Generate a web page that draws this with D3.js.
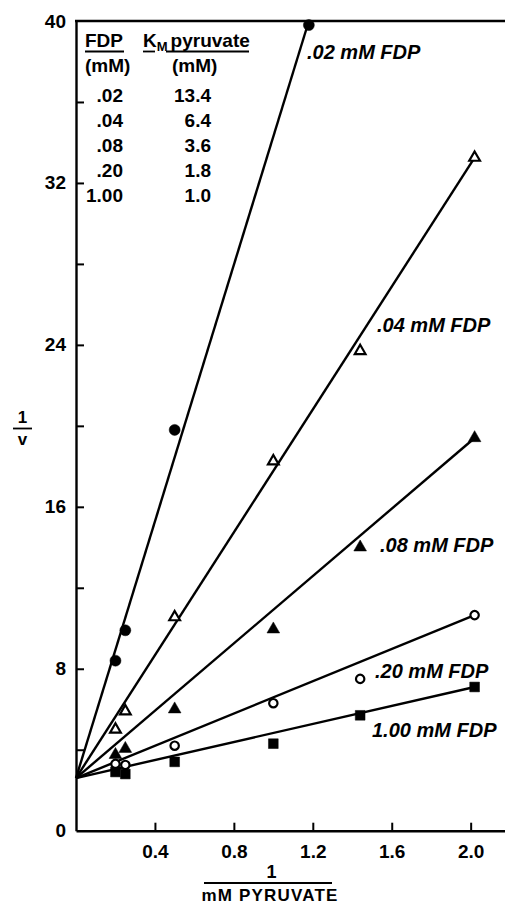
<!DOCTYPE html>
<html>
<head>
<meta charset="utf-8">
<script src="https://cdn.jsdelivr.net/npm/d3@7"></script>
<style>
  html, body { margin: 0; padding: 0; background: #fff; }
  svg { display: block; }
  text { font-family: "Liberation Sans", Arial, sans-serif; fill: #000; }
</style>
</head>
<body>
<svg id="chart" width="505" height="906"></svg>
<script>
// ---------- data ----------
const seriesNames = [".02 mM FDP", ".04 mM FDP", ".08 mM FDP", ".20 mM FDP", "1.00 mM FDP"];
const seriesSymbols = ["circle", "triangle", "triangle", "circle", "square"];
const seriesFilled = [true, false, true, false, true];

const x02 = [0.2, 0.25, 0.5, 1.18];
const y02 = [8.4, 9.9, 19.8, 39.8];
const x04 = [0.2, 0.25, 0.5, 1.0, 1.44, 2.02];
const y04 = [5.0, 5.9, 10.55, 18.25, 23.7, 33.25];
const x08 = [0.2, 0.25, 0.5, 1.0, 1.44, 2.02];
const y08 = [3.75, 4.05, 6.0, 9.95, 14.0, 19.4];
const x20 = [0.2, 0.25, 0.5, 1.0, 1.44, 2.02];
const y20 = [3.3, 3.25, 4.2, 6.3, 7.5, 10.65];
const x100 = [0.2, 0.25, 0.5, 1.0, 1.44, 2.02];
const y100 = [2.9, 2.8, 3.4, 4.3, 5.7, 7.1];

// fitted lines: common intercept and end points
const lineIntercept = 2.6;
const lineEndX = [1.18, 2.02, 2.02, 2.02, 2.02];
const lineEndY = [40, 33.25, 19.4, 10.65, 7.1];

const xTickValues = [0.4, 0.8, 1.2, 1.6, 2.0];
const xTickLabels = ["0.4", "0.8", "1.2", "1.6", "2.0"];
const yTickValues = [4, 8, 12, 16, 20, 24, 28, 32, 36];
const yLabelValues = [0, 8, 16, 24, 32, 40];

const fdpLabels = [".02", ".04", ".08", ".20", "1.00"];
const kmLabels = ["13.4", "6.4", "3.6", "1.8", "1.0"];

// ---------- layout ----------
const svg = d3.select("#chart");
const x = d3.scaleLinear().domain([0, 2.174]).range([76, 505]);
const y = d3.scaleLinear().domain([0, 40]).range([830.7, 21]);

const seriesX = [x02, x04, x08, x20, x100];
const seriesY = [y02, y04, y08, y20, y100];

// fitted lines
const lineG = svg.append("g");
lineEndX.forEach((ex, i) => {
  lineG.append("line")
    .attr("x1", x(0)).attr("y1", y(lineIntercept))
    .attr("x2", x(ex)).attr("y2", y(lineEndY[i]))
    .attr("stroke", "#000").attr("stroke-width", 2.4);
});

// axes
const xAxis = d3.axisBottom(x).tickValues(xTickValues)
  .tickFormat((d, i) => xTickLabels[i]).tickSizeInner(-8).tickSizeOuter(0).tickPadding(14);
const gx = svg.append("g").attr("transform", `translate(0,${y(0)})`).call(xAxis);
gx.select(".domain").attr("stroke-width", 2.4);
gx.selectAll(".tick line").attr("stroke-width", 2);
gx.selectAll(".tick text").attr("font-size", 19).attr("font-weight", "bold")
  .attr("font-family", "Liberation Sans, Arial, sans-serif");

const yAxis = d3.axisLeft(y).tickValues(yTickValues)
  .tickFormat(() => "").tickSizeInner(-8).tickSizeOuter(0);
const gy = svg.append("g").attr("transform", `translate(${x(0)},0)`).call(yAxis);
gy.select(".domain").attr("stroke-width", 2.4);
gy.selectAll(".tick line").attr("stroke-width", 2);

svg.append("g").selectAll("text").data(yLabelValues).join("text")
  .attr("x", 66).attr("y", d => y(d))
  .attr("text-anchor", "end").attr("dominant-baseline", "central")
  .attr("font-size", 19).attr("font-weight", "bold")
  .text(d => d);

// top frame line
svg.append("line").attr("x1", x(0) - 1).attr("x2", 505)
  .attr("y1", y(40)).attr("y2", y(40))
  .attr("stroke", "#000").attr("stroke-width", 2.4);

// markers
const symType = { circle: d3.symbolCircle, triangle: d3.symbolTriangle, square: d3.symbolSquare };
const symSize = { circle: 95, triangle: 70, square: 95 };
const symSizeOpen = { circle: 55, triangle: 50, square: 70 };
const markG = svg.append("g");
seriesX.forEach((xs, i) => {
  const t = seriesSymbols[i];
  const filled = seriesFilled[i];
  const gen = d3.symbol().type(symType[t]).size(filled ? symSize[t] : symSizeOpen[t]);
  markG.selectAll(null).data(xs.map((v, k) => [v, seriesY[i][k]])).join("path")
    .attr("d", gen)
    .attr("transform", d => `translate(${x(d[0])},${y(d[1])})`)
    .attr("fill", filled ? "#000" : "#fff")
    .attr("stroke", "#000")
    .attr("stroke-width", filled ? 0.5 : 2.2);
});

// series labels
const labelPos = [[307, 59], [377, 332], [380, 552], [375, 678], [372, 737]];
svg.append("g").selectAll("text").data(seriesNames).join("text")
  .attr("x", (d, i) => labelPos[i][0]).attr("y", (d, i) => labelPos[i][1])
  .attr("font-size", 20).attr("font-style", "italic").attr("font-weight", "bold")
  .text(d => d);

// table
const tbl = svg.append("g").attr("font-size", 19).attr("font-weight", "bold");
tbl.append("text").attr("x", 85).attr("y", 47).text("FDP");
tbl.append("line").attr("x1", 85).attr("x2", 124).attr("y1", 51.5).attr("y2", 51.5)
  .attr("stroke", "#000").attr("stroke-width", 1.8);
tbl.append("text").attr("x", 85).attr("y", 72).text("(mM)");
const kmHead = tbl.append("text").attr("x", 143).attr("y", 47);
kmHead.append("tspan").text("K");
kmHead.append("tspan").attr("font-size", 13).attr("dy", 4).text("M");
kmHead.append("tspan").attr("dy", -4).attr("dx", 3).text("pyruvate");
tbl.append("line").attr("x1", 143).attr("x2", 155).attr("y1", 51.5).attr("y2", 51.5)
  .attr("stroke", "#000").attr("stroke-width", 1.8);
tbl.append("line").attr("x1", 166).attr("x2", 249).attr("y1", 51.5).attr("y2", 51.5)
  .attr("stroke", "#000").attr("stroke-width", 1.8);
tbl.append("text").attr("x", 172).attr("y", 72).text("(mM)");
tbl.selectAll(".fdp").data(fdpLabels).join("text").attr("class", "fdp")
  .attr("x", 123).attr("y", (d, i) => 102 + i * 25).attr("text-anchor", "end").text(d => d);
tbl.selectAll(".km").data(kmLabels).join("text").attr("class", "km")
  .attr("x", 211).attr("y", (d, i) => 102 + i * 25).attr("text-anchor", "end").text(d => d);

// y-axis title: 1 / v
const yt = svg.append("g").attr("font-size", 17).attr("font-weight", "bold");
yt.append("text").attr("x", 22.5).attr("y", 423).attr("text-anchor", "middle").text("1");
yt.append("line").attr("x1", 13).attr("x2", 32).attr("y1", 428.5).attr("y2", 428.5)
  .attr("stroke", "#000").attr("stroke-width", 1.8);
yt.append("text").attr("x", 22.5).attr("y", 445).attr("text-anchor", "middle").text("v");

// x-axis title: 1 / mM PYRUVATE
const xt = svg.append("g").attr("font-size", 18).attr("font-weight", "bold");
xt.append("text").attr("x", 271.5).attr("y", 878).attr("text-anchor", "middle").text("1");
xt.append("line").attr("x1", 204).attr("x2", 332).attr("y1", 883).attr("y2", 883)
  .attr("stroke", "#000").attr("stroke-width", 1.8);
xt.append("text").attr("x", 270).attr("y", 901).attr("text-anchor", "middle")
  .attr("font-size", 17).attr("letter-spacing", 1.2).text("mM PYRUVATE");
</script>
</body>
</html>
